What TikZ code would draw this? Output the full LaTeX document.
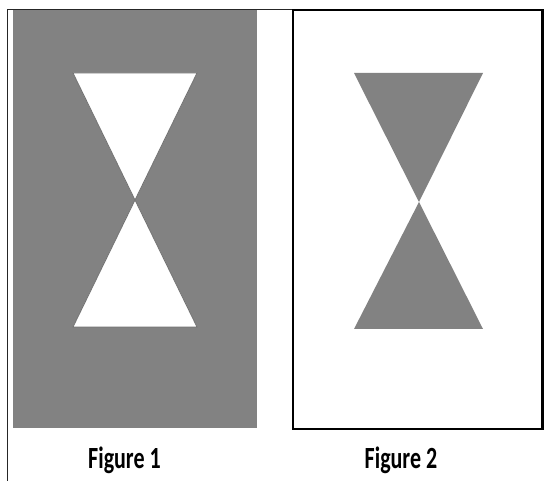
\documentclass[tikz,border=0pt]{standalone}
\usepackage{fontspec}
\setmainfont{Carlito}
\definecolor{figgray}{RGB}{130,130,130}
\definecolor{shadow}{RGB}{115,115,115}
\tikzset{
  thinline/.style={draw=black!85, line width=1pt},
  boxline/.style={draw=black, line width=2.2pt},
  grayfill/.style={fill=figgray},
  whitetri/.style={fill=white, draw=shadow, line width=0.8pt, line join=miter},
  graytri/.style={fill=figgray},
  caption/.style={anchor=base, font=\bfseries\fontsize{22}{26}\selectfont, inner sep=0pt}
}
\begin{document}
\begin{tikzpicture}[x=1pt, y=-1pt]
\useasboundingbox (0,0) rectangle (544,481);
% figure 1
\fill[grayfill] (12.5,10.5) rectangle (257,427.5);
% frame lines
\coordinate (lt) at (7.5,10);
\coordinate (lb) at (7.5,481);
\coordinate (tr) at (293,10);
\draw[thinline] (lb) -- (lt) -- (tr);
\coordinate (a1) at (73,73);
\coordinate (a2) at (197,73);
\coordinate (c1) at (135,200);
\coordinate (a3) at (197,327);
\coordinate (a4) at (73,327);
\filldraw[whitetri] (a1) -- (a2) -- (c1) -- cycle;
\filldraw[whitetri] (c1) -- (a3) -- (a4) -- cycle;
% figure 2
\draw[boxline] (293,10) rectangle (542.5,429);
\coordinate (b1) at (354,73);
\coordinate (b2) at (483,73);
\coordinate (c2) at (419,202);
\coordinate (b3) at (483,329);
\coordinate (b4) at (354,329);
\fill[graytri] (b1) -- (b2) -- (c2) -- cycle;
\fill[graytri] (c2) -- (b3) -- (b4) -- cycle;
% captions
\node[caption] (cap1) at (124.5,468) {\scalebox{1}[1.4]{Figure 1}};
\node[caption] (cap2) at (401,468) {\scalebox{1}[1.4]{Figure 2}};
\end{tikzpicture}
\end{document}
